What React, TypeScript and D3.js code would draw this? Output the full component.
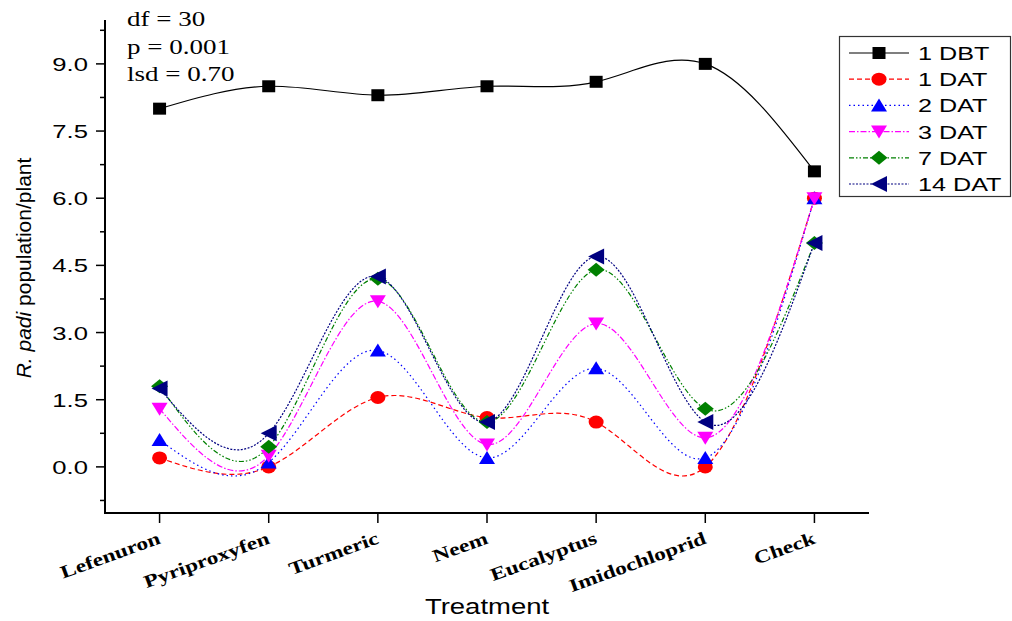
import React from "react";
import * as d3 from "d3";

// treatments on the x axis
const treatments = ["Lefenuron", "Pyriproxyfen", "Turmeric", "Neem", "Eucalyptus", "Imidochloprid", "Check"];

// R. padi population per plant, one array per sampling date
const dbt1 = [8.0, 8.5, 8.3, 8.5, 8.6, 9.0, 6.6];
const dat1 = [0.2, 0.0, 1.55, 1.1, 1.0, 0.0, 6.0];
const dat2 = [0.6, 0.1, 2.6, 0.2, 2.2, 0.2, 6.0];
const dat3 = [1.3, 0.25, 3.7, 0.5, 3.2, 0.65, 6.0];
const dat7 = [1.8, 0.45, 4.2, 1.0, 4.4, 1.3, 5.0];
const dat14 = [1.75, 0.75, 4.25, 1.0, 4.7, 1.0, 5.0];

const seriesNames = ["1 DBT", "1 DAT", "2 DAT", "3 DAT", "7 DAT", "14 DAT"];
const yTicks = [0, 1.5, 3, 4.5, 6, 7.5, 9];
const stats = ["df = 30", "p = 0.001", "lsd = 0.70"];

const seriesValues = [dbt1, dat1, dat2, dat3, dat7, dat14];

const styles = [
  { color: "#000000", dash: "none", shape: "square" },
  { color: "#ff0000", dash: "5,3", shape: "circle" },
  { color: "#0000ff", dash: "1.5,3", shape: "up" },
  { color: "#ff00ff", dash: "6,2,1.5,2", shape: "down" },
  { color: "#008000", dash: "5,2,1.5,2,1.5,2", shape: "diamond" },
  { color: "#000080", dash: "2,1.5", shape: "left" },
];

const W = 1012;
const H = 621;
const left = 105;
const right = 869;
const top = 20;
const bottom = 513;

function Marker({ shape, x, y, color }) {
  let d = "";
  if (shape === "square") d = `M${x - 6.5},${y - 6}h13v12h-13z`;
  if (shape === "up") d = `M${x - 8},${y + 6}L${x},${y - 7}L${x + 8},${y + 6}z`;
  if (shape === "down") d = `M${x - 8},${y - 6}L${x},${y + 7}L${x + 8},${y - 6}z`;
  if (shape === "diamond") d = `M${x - 8.5},${y}L${x},${y - 7}L${x + 8.5},${y}L${x},${y + 7}z`;
  if (shape === "left") d = `M${x + 8},${y - 8}L${x - 8},${y}L${x + 8},${y + 8}z`;
  if (shape === "circle") return <ellipse cx={x} cy={y} rx={7.5} ry={6.5} fill={color} />;
  return <path d={d} fill={color} />;
}

export default function App() {
  const x = d3.scalePoint().domain(treatments).range([left, right]).padding(0.5);
  const y = d3.scaleLinear().domain([-1.03, 9.98]).range([bottom, top]);
  const minor = d3.range(-0.75, 9.8, 1.5);

  const line = d3
    .line<number>()
    .x((d, i) => x(treatments[i]))
    .y(d => y(d))
    .curve(d3.curveNatural);

  const arial = "Arial, 'Liberation Sans', sans-serif";
  const times = "'Times New Roman', 'Liberation Serif', serif";

  return (
    <svg width={W} height={H} style={{ position: "absolute", left: 0, top: 0, background: "#fff" }}>
      {/* stats */}
      {stats.map((s, i) => (
        <text key={s} transform={`translate(127,${26 + i * 27.5}) scale(1.35,1)`} fontFamily={times} fontSize={20}>
          {s}
        </text>
      ))}

      {/* axes */}
      <line x1={left} x2={left} y1={top} y2={bottom + 1} stroke="#000" strokeWidth={2} />
      <line x1={left - 1} x2={right} y1={bottom} y2={bottom} stroke="#000" strokeWidth={2} />
      {yTicks.map(t => (
        <g key={t}>
          <line x1={left - 9} x2={left} y1={y(t)} y2={y(t)} stroke="#000" strokeWidth={1.5} />
          <text
            transform={`translate(88,${y(t) + 7}) scale(1.35,1)`}
            textAnchor="end"
            fontFamily={arial}
            fontSize={19}
          >
            {t.toFixed(1)}
          </text>
        </g>
      ))}
      {minor.map(t => (
        <line key={t} x1={left - 5} x2={left} y1={y(t)} y2={y(t)} stroke="#000" strokeWidth={1.5} />
      ))}
      {treatments.map(c => (
        <g key={c}>
          <line x1={x(c)} x2={x(c)} y1={bottom} y2={bottom + 10} stroke="#000" strokeWidth={1.5} />
          <text
            transform={`translate(${x(c) + 2},${543}) rotate(-20) scale(1.3,1)`}
            textAnchor="end"
            fontFamily={times}
            fontWeight="bold"
            fontSize={18}
          >
            {c}
          </text>
        </g>
      ))}

      <text transform={`translate(487,614) scale(1.25,1)`} textAnchor="middle" fontFamily={arial} fontSize={22}>
        Treatment
      </text>
      <text transform="translate(31,268) rotate(-90)" textAnchor="middle" fontFamily={arial} fontSize={21}>
        <tspan fontStyle="italic">R. padi</tspan> population/plant
      </text>

      {/* lines */}
      {seriesValues.map((vals, i) => (
        <path
          key={seriesNames[i]}
          d={line(vals)}
          fill="none"
          stroke={styles[i].color}
          strokeWidth={1.2}
          strokeDasharray={styles[i].dash}
        />
      ))}
      {/* markers */}
      {seriesValues.map((vals, i) => (
        <g key={seriesNames[i]}>
          {vals.map((v, j) => (
            <Marker key={j} shape={styles[i].shape} x={x(treatments[j])} y={y(v)} color={styles[i].color} />
          ))}
        </g>
      ))}

      {/* legend */}
      <rect x={839.5} y={36.5} width={171} height={160} fill="#fff" stroke="#333" strokeWidth={1.2} />
      {seriesNames.map((n, i) => {
        const ly = 53 + i * 26.2;
        return (
          <g key={n}>
            <line x1={849} x2={909} y1={ly} y2={ly} stroke={styles[i].color} strokeWidth={1.2} strokeDasharray={styles[i].dash} />
            <Marker shape={styles[i].shape} x={879} y={ly} color={styles[i].color} />
            <text transform={`translate(918,${ly + 7}) scale(1.4,1)`} fontFamily={arial} fontSize={18}>
              {n}
            </text>
          </g>
        );
      })}
    </svg>
  );
}
